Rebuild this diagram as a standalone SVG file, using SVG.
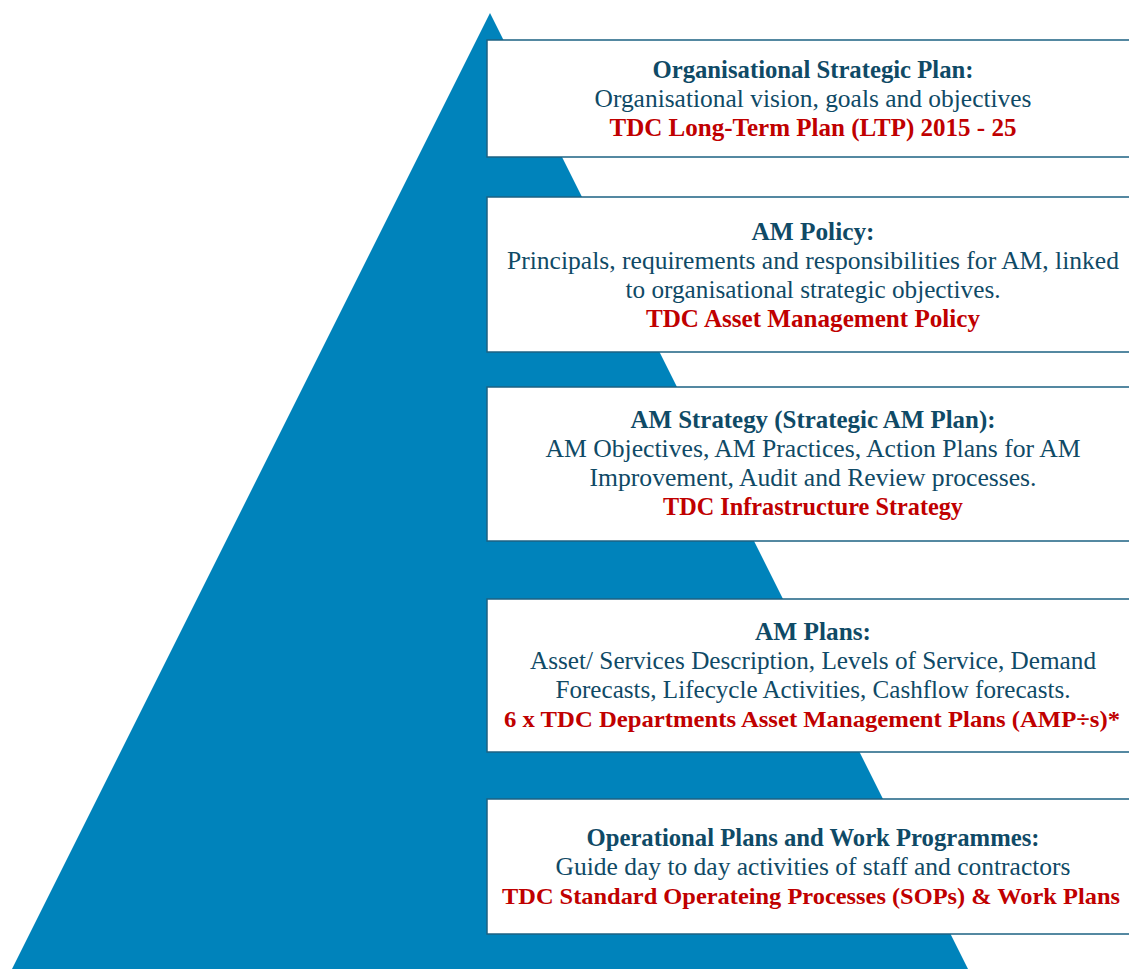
<svg xmlns="http://www.w3.org/2000/svg" width="1129" height="969" viewBox="0 0 1129 969">
  <style>
    .box { fill: #ffffff; stroke: #1d6283; stroke-width: 1.5; }
    text { font-family: "Liberation Serif", "Times New Roman", serif; font-size: 26px; text-anchor: middle; }
    .title { font-weight: bold; fill: #0f4a66; }
    .body { fill: #0f4a66; font-size: 25px; }
    .doc { font-weight: bold; fill: #c00000; }
    .doc.long { font-size: 24px; }
  </style>

  <!-- background pyramid -->
  <polygon id="pyramid" points="490,13 12,969 968,969" fill="#0083bb"/>

  <!-- level 1 -->
  <g id="strategic-plan">
    <rect class="box" x="487" y="40" width="660" height="117"/>
    <text class="title" x="813" y="78" textLength="321" lengthAdjust="spacingAndGlyphs">Organisational Strategic Plan:</text>
    <text class="body" x="813" y="107" textLength="437" lengthAdjust="spacingAndGlyphs">Organisational vision, goals and objectives</text>
    <text class="doc" x="813" y="136" textLength="407" lengthAdjust="spacingAndGlyphs">TDC Long-Term Plan (LTP) 2015 - 25</text>
  </g>

  <!-- level 2 -->
  <g id="am-policy">
    <rect class="box" x="487" y="197" width="660" height="155"/>
    <text class="title" x="813" y="240" textLength="123" lengthAdjust="spacingAndGlyphs">AM Policy:</text>
    <text class="body" x="813" y="269" textLength="612" lengthAdjust="spacingAndGlyphs">Principals, requirements and responsibilities for AM, linked</text>
    <text class="body" x="813" y="298" textLength="375" lengthAdjust="spacingAndGlyphs">to organisational strategic objectives.</text>
    <text class="doc" x="813" y="327" textLength="334" lengthAdjust="spacingAndGlyphs">TDC Asset Management Policy</text>
  </g>

  <!-- level 3 -->
  <g id="am-strategy">
    <rect class="box" x="487" y="387" width="660" height="154"/>
    <text class="title" x="813" y="428" textLength="365" lengthAdjust="spacingAndGlyphs">AM Strategy (Strategic AM Plan):</text>
    <text class="body" x="813" y="457" textLength="535" lengthAdjust="spacingAndGlyphs">AM Objectives, AM Practices, Action Plans for AM</text>
    <text class="body" x="813" y="486" textLength="447" lengthAdjust="spacingAndGlyphs">Improvement, Audit and Review processes.</text>
    <text class="doc" x="813" y="515" textLength="300" lengthAdjust="spacingAndGlyphs">TDC Infrastructure Strategy</text>
  </g>

  <!-- level 4 -->
  <g id="am-plans">
    <rect class="box" x="487" y="599" width="660" height="153"/>
    <text class="title" x="813" y="640" textLength="116" lengthAdjust="spacingAndGlyphs">AM Plans:</text>
    <text class="body" x="813" y="669" textLength="566" lengthAdjust="spacingAndGlyphs">Asset/ Services Description, Levels of Service, Demand</text>
    <text class="body" x="813" y="698" textLength="515" lengthAdjust="spacingAndGlyphs">Forecasts, Lifecycle Activities, Cashflow forecasts.</text>
    <text class="doc long" x="812" y="727" textLength="616" lengthAdjust="spacingAndGlyphs">6 x TDC Departments Asset Management Plans (AMP÷s)*</text>
  </g>

  <!-- level 5 -->
  <g id="operational-plans">
    <rect class="box" x="487" y="799" width="660" height="135"/>
    <text class="title" x="813" y="846" textLength="453" lengthAdjust="spacingAndGlyphs">Operational Plans and Work Programmes:</text>
    <text class="body" x="813" y="875" textLength="515" lengthAdjust="spacingAndGlyphs">Guide day to day activities of staff and contractors</text>
    <text class="doc long" x="811" y="904" textLength="618" lengthAdjust="spacingAndGlyphs">TDC Standard Operateing Processes (SOPs) &amp; Work Plans</text>
  </g>
</svg>
